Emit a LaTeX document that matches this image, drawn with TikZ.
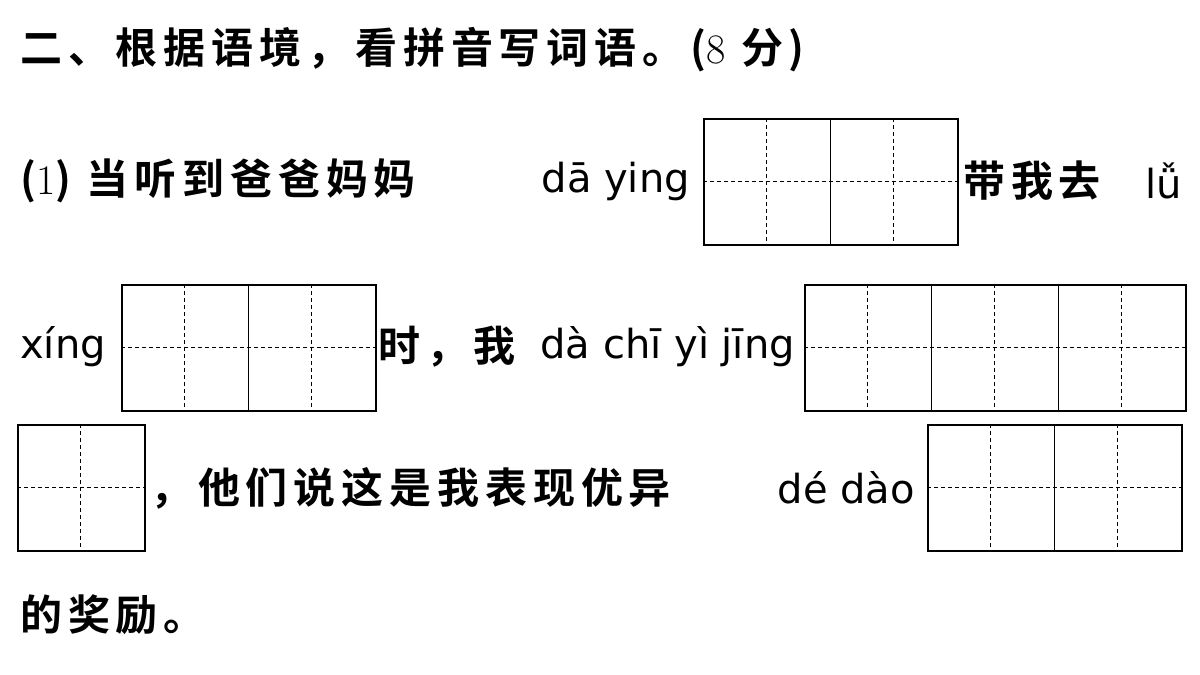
\documentclass[tikz,border=0pt]{standalone}
\usepackage{fontspec}
\newfontfamily\cjk[LetterSpace=14]{Noto Sans CJK SC Bold}
\newfontfamily\py{DejaVu Sans}
\begin{document}
\begin{tikzpicture}[x=1pt,y=-1pt,
  txt/.style={anchor=west,inner sep=0pt,font=\fontsize{42}{44}\selectfont\cjk},
  pin/.style={inner sep=0pt,font=\fontsize{40}{44}\selectfont\py},
  box/.style={draw,line width=1.5pt},
  dsh/.style={dashed,line width=0.8pt,dash pattern=on 4pt off 3pt},
  sol/.style={line width=0.8pt}]
\useasboundingbox (0,0) rectangle (1200,675);
\newcommand\tzg[5]{% x0 y0 nchars name
  \node[box,minimum width=#3*127,minimum height=126,anchor=north west,inner sep=0pt] (#4) at (#1,#2) {};
  \draw[dsh] (#4.west) -- (#4.east);
  \foreach \i in {1,...,#3}{\draw[dsh] (#1+\i*127-63.5,#2) -- ++(0,126);}
  \ifnum#3>1 \foreach \i in {2,...,#3}{\draw[sol] (#1+\i*127-127,#2) -- ++(0,126);}\fi
}
\tzg{703}{118}{2}{b1}{}
\tzg{121}{284}{2}{b2}{}
\tzg{804}{284}{3}{b3}{}
\tzg{17}{424}{1}{b4}{}
\tzg{927}{424}{2}{b5}{}
\node[txt] (t1) at (20,50) {二、根据语境，看拼音写词语。({\rmfamily 8} 分)};
\node[txt] (t2) at (20,181) {({\rmfamily 1}) 当听到爸爸妈妈};
\node[pin,anchor=east] (p1) at (690,181) {dā ying};
\node[txt] (t3) at (963,181) {带我去};
\node[pin,anchor=west] (p2) at (1145,181) {lǚ};
\node[pin,anchor=west] (p3) at (20,347) {xíng};
\node[txt] (t4) at (378,347) {时，我};
\node[pin,anchor=east] (p4) at (795,347) {dà chī yì jīng};
\node[txt] (t5) at (150,488) {，他们说这是我表现优异};
\node[pin,anchor=east] (p5) at (915,488) {dé dào};
\node[txt] (t6) at (20,615) {的奖励。};
\end{tikzpicture}
\end{document}
